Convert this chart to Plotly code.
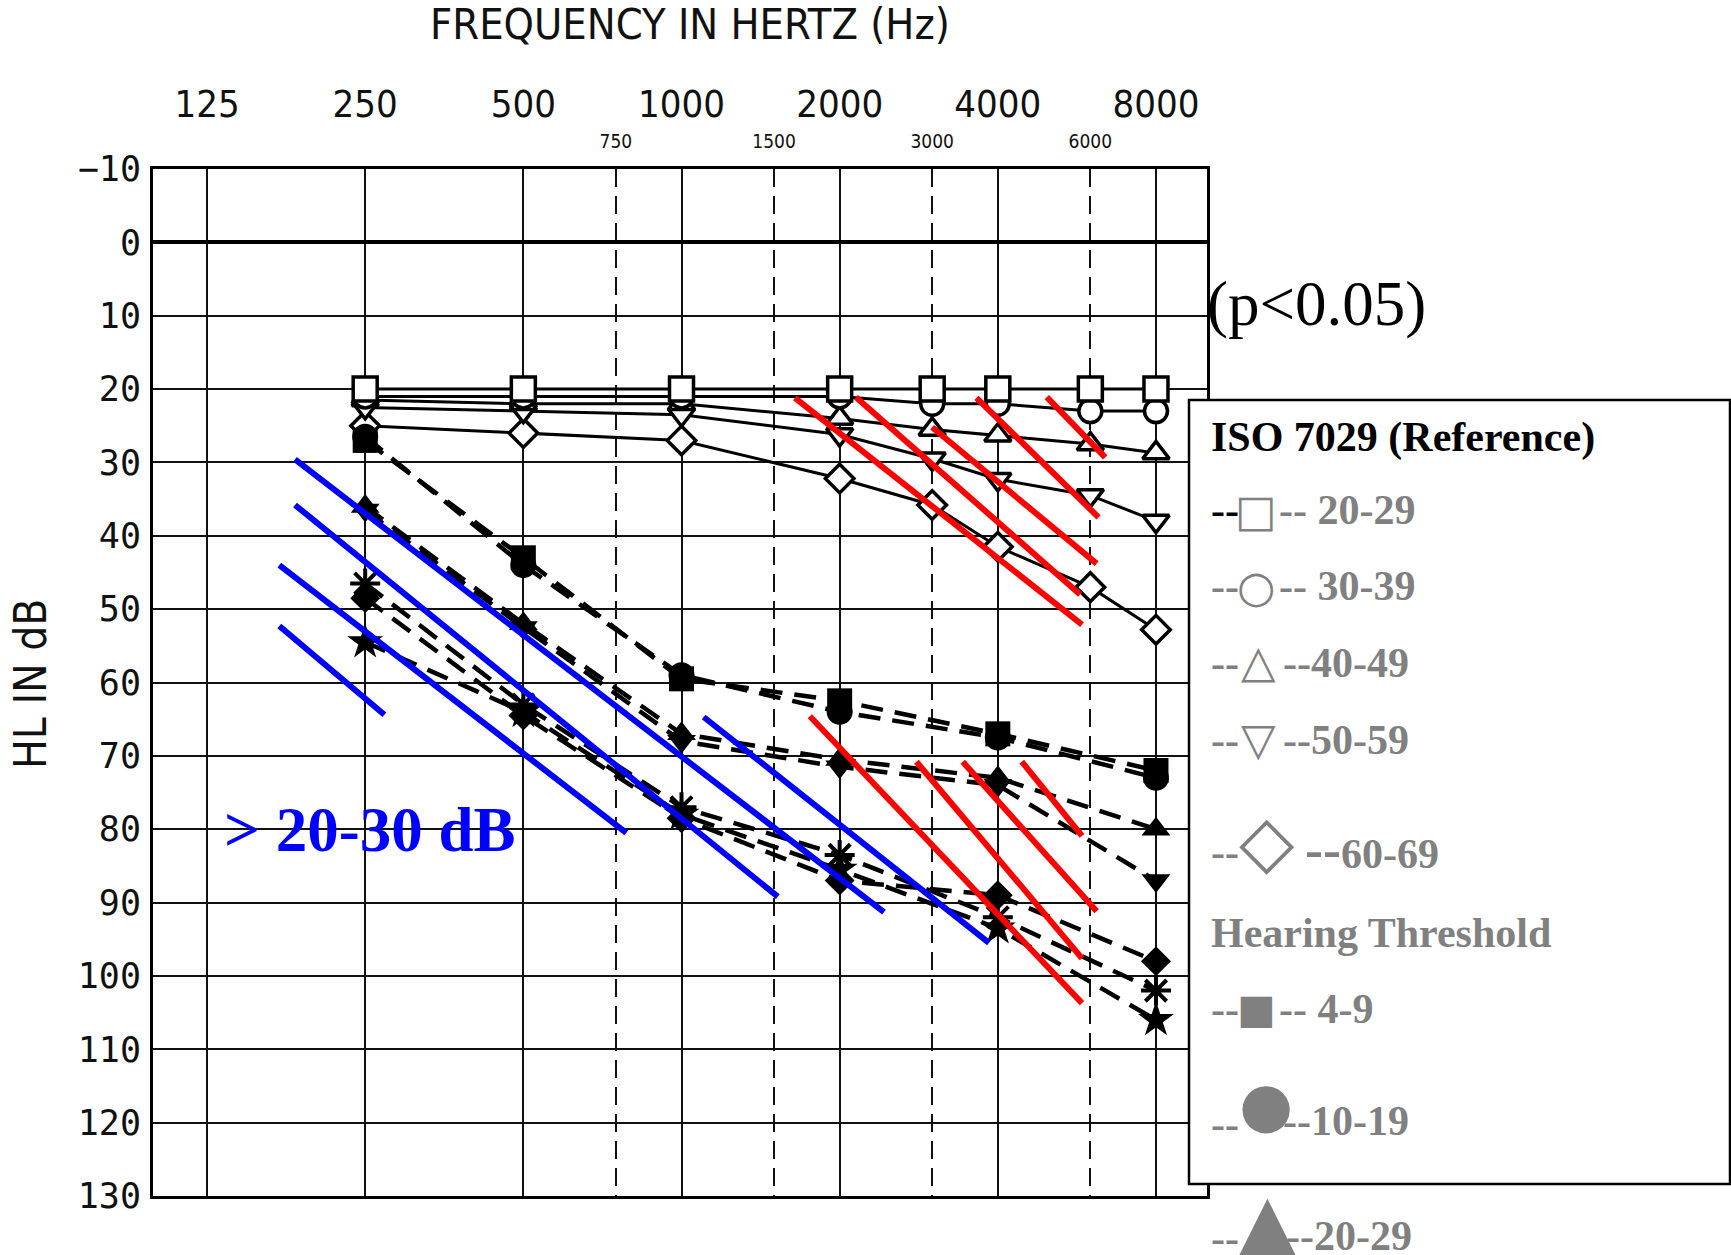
import plotly.graph_objects as go

# ---------------- data ----------------
# ISO 7029 reference thresholds (dB HL) by age group
FREQ_ISO = [250, 500, 1000, 2000, 3000, 4000, 6000, 8000]
ISO_20_29 = [20, 20, 20, 20, 20, 20, 20, 20]
ISO_30_39 = [21, 21, 21, 21, 22, 22, 23, 23]
ISO_40_49 = [21.5, 22, 22, 24, 25.5, 26.3, 27.5, 28.7]
ISO_50_59 = [22.5, 23, 23.5, 26.2, 29.5, 32.3, 34.5, 38]
ISO_60_69 = [25, 26, 27, 32.2, 35.8, 41.5, 47, 52.8]

# measured hearing thresholds (dB HL) by exposure group
FREQ_HT = [250, 500, 1000, 2000, 4000, 8000]
HT_4_9 = [27, 43, 59.5, 62.5, 67, 72]
HT_10_19 = [26.5, 44, 59, 64, 67.5, 73]
HT_20_29 = [36, 52, 67, 70.5, 73, 80]
HT_30_39 = [36.5, 52.5, 68, 71.5, 74, 87]
HT_40_49 = [48.5, 64.5, 78.5, 87, 89, 98]
HT_50_59 = [46.5, 63, 77, 83.5, 92, 102]
HT_60_69 = [54.5, 64, 78, 85.5, 93.5, 106]

# axis ticks
OCTAVE_TICKS = [125, 250, 500, 1000, 2000, 4000, 8000]
MID_TICKS = [750, 1500, 3000, 6000]
DB_TICKS = list(range(-10, 131, 10))
DB_LABELS = ["\u221210"] + [str(v) for v in DB_TICKS[1:]]

# highlight strokes: (freq start, dB start, freq end, dB end)
BLUE_STROKES = [
    (183.8, 29.6, 2429, 91.3),
    (183.8, 35.8, 1525, 89.2),
    (171.6, 44.0, 785, 80.5),
    (171.6, 52.3, 272, 64.4),
    (1102, 64.7, 3848, 95.5),
]
RED_STROKES = [
    (1644, 21.2, 5785, 52.1),
    (2148, 21.1, 5737, 48.0),
    (2999, 25.2, 6169, 43.8),
    (3643, 21.2, 6221, 37.5),
    (4958, 21.1, 6404, 29.3),
    (1755, 64.6, 5785, 103.7),
    (2800, 70.8, 5785, 97.6),
    (3430, 70.8, 6169, 91.2),
    (4443, 70.8, 5785, 80.9),
]

# ---------------- geometry helpers ----------------
W, H = 1731, 1255
PL, PR, PT, PB = 153, 1207, 169, 1196


def px_x(x):
    return (x - PL) / (PR - PL)


def px_y(y):
    return (PB - y) / (PB - PT)


AX_FONT = "DejaVu Sans Condensed, Liberation Sans Narrow, DejaVu Sans, sans-serif"
MONO = "DejaVu Sans Mono, Liberation Mono, monospace"
SERIF = "Liberation Serif, Times New Roman, serif"
GLYPH = "DejaVu Sans, sans-serif"
GRAY = "#808080"

fig = go.Figure()

# ISO 7029 reference curves: solid lines, open markers
iso_series = [
    ("ISO 20-29", ISO_20_29, "square", 24),
    ("ISO 30-39", ISO_30_39, "circle", 23),
    ("ISO 40-49", ISO_40_49, "triangle-up", 23),
    ("ISO 50-59", ISO_50_59, "triangle-down", 23),
    ("ISO 60-69", ISO_60_69, "diamond", 22),
]
for name, vals, sym, size in reversed(iso_series):
    fig.add_trace(go.Scatter(
        x=FREQ_ISO, y=vals, name=name, mode="lines+markers",
        line=dict(color="black", width=3),
        marker=dict(symbol=sym, size=size, color="white",
                    line=dict(color="black", width=3.5)),
    ))

# hearing threshold curves: dashed lines, filled markers
ht_series = [
    ("4-9", HT_4_9, "square", 25),
    ("10-19", HT_10_19, "circle", 26),
    ("20-29", HT_20_29, "triangle-up", 25),
    ("30-39", HT_30_39, "triangle-down", 25),
    ("40-49", HT_40_49, "diamond", 23),
    ("50-59", HT_50_59, "asterisk-open", 25),
    ("60-69", HT_60_69, "star", 27),
]
for name, vals, sym, size in ht_series:
    mk = dict(symbol=sym, size=size, color="black", line=dict(color="black", width=0))
    if sym == "asterisk-open":
        mk["line"] = dict(color="black", width=4)
    fig.add_trace(go.Scatter(
        x=FREQ_HT, y=vals, name=name, mode="lines+markers",
        line=dict(color="black", width=4.5, dash="22px,12px"),
        marker=mk,
    ))


def strokes_trace(strokes, color):
    xs, ys = [], []
    for f0, d0, f1, d1 in strokes:
        xs += [f0, f1, None]
        ys += [d0, d1, None]
    return go.Scatter(x=xs, y=ys, mode="lines", xaxis="x2", yaxis="y",
                      line=dict(color=color, width=6), hoverinfo="skip")


fig.add_trace(strokes_trace(BLUE_STROKES, "#0000FF"))
fig.add_trace(strokes_trace(RED_STROKES, "#FF0000"))

XRANGE = [1.9941, 4.0002]

fig.update_layout(
    width=W, height=H,
    margin=dict(l=PL, r=W - PR, t=PT, b=H - PB, pad=0),
    plot_bgcolor="white", paper_bgcolor="white",
    showlegend=False,
    xaxis=dict(
        type="log", range=XRANGE, side="top",
        tickmode="array", tickvals=OCTAVE_TICKS,
        ticktext=[str(v) for v in OCTAVE_TICKS],
        tickfont=dict(family=AX_FONT, size=38, color="#111"),
        ticks="outside", ticklen=34, tickcolor="rgba(0,0,0,0)",
        showgrid=True, gridcolor="#111", gridwidth=2,
        showline=True, linecolor="black", linewidth=3, mirror=True,
        zeroline=False,
    ),
    xaxis2=dict(
        type="log", range=XRANGE, side="top", overlaying="x", anchor="y",
        tickmode="array", tickvals=MID_TICKS,
        ticktext=[str(v) for v in MID_TICKS],
        tickfont=dict(family=AX_FONT, size=19, color="#111"),
        ticks="outside", ticklen=12, tickcolor="rgba(0,0,0,0)",
        showgrid=True, gridcolor="#111", gridwidth=2, griddash="18px,9px",
        showline=False, zeroline=False,
    ),
    yaxis=dict(
        range=[130, -10],
        tickmode="array", tickvals=DB_TICKS, ticktext=DB_LABELS,
        tickfont=dict(family=MONO, size=35, color="#111"),
        ticks="outside", ticklen=2, tickcolor="rgba(0,0,0,0)",
        showgrid=True, gridcolor="#111", gridwidth=2,
        zeroline=True, zerolinecolor="black", zerolinewidth=4,
        showline=True, linecolor="black", linewidth=3, mirror=True,
    ),
)

annotations = [
    dict(text="FREQUENCY IN HERTZ (Hz)", x=px_x(690), y=px_y(24),
         font=dict(family=AX_FONT, size=43, color="#111")),
    dict(text="HL IN dB", x=px_x(30), y=px_y(684), textangle=-90, xanchor="center",
         font=dict(family=AX_FONT, size=44, color="#111")),
    dict(text="<b>&gt; 20-30 dB</b>", x=px_x(222), y=px_y(830), xanchor="left",
         font=dict(family=SERIF, size=63, color="#0000FF")),
    dict(text="(p&lt;0.05)", x=px_x(1205), y=px_y(304), xanchor="left",
         font=dict(family=SERIF, size=63, color="black")),
    dict(text="<b>ISO 7029 (Reference)</b>", x=px_x(1209), y=px_y(437), xanchor="left",
         font=dict(family=SERIF, size=42, color="black")),
]


def legend_text(txt, x, y, color=GRAY, size=42):
    annotations.append(dict(
        text="<b>" + txt + "</b>", x=px_x(x), y=px_y(y), xanchor="left",
        font=dict(family=SERIF, size=size, color=color)))


def legend_glyph(ch, x, y, size):
    annotations.append(dict(
        text=ch, x=px_x(x), y=px_y(y), xanchor="center",
        font=dict(family=GLYPH, size=size, color=GRAY)))


# ISO 7029 rows
legend_text("--", 1209, 510, color="black")
legend_glyph("\u25a1", 1256, 510, 44)
legend_text("-- 20-29", 1277, 510)

legend_text("--", 1209, 586)
legend_glyph("\u25cb", 1256, 586, 44)
legend_text("-- 30-39", 1277, 586)

legend_text("--", 1209, 663)
legend_glyph("\u25b3", 1258, 661, 45)
legend_text("--40-49", 1281, 663)

legend_text("--", 1209, 740)
legend_glyph("\u25bd", 1258, 739, 45)
legend_text("--50-59", 1281, 740)

legend_text("--", 1209, 852)
legend_glyph("\u25c7", 1267, 841, 72)
legend_text('<span style="font-size:54px">--</span>60-69', 1303, 850)

# hearing threshold rows
legend_text("Hearing Threshold", 1209, 933)

legend_text("--", 1209, 1009)
legend_glyph("\u25a0", 1256, 1009, 41)
legend_text("-- 4-9", 1277, 1009)

legend_text("--", 1209, 1124)
legend_glyph("\u25cf", 1266, 1104, 62)
legend_text("--10-19", 1281, 1121)

legend_text("--", 1209, 1238)
legend_glyph("\u25b2", 1267, 1228, 100)
legend_text("--20-29", 1284, 1236)

for a in annotations:
    a.setdefault("xref", "paper")
    a.setdefault("yref", "paper")
    a.setdefault("showarrow", False)
    a.setdefault("yanchor", "middle")
fig.update_layout(annotations=annotations)

# legend frame, overlapping the right edge of the chart
fig.add_shape(type="rect", xref="paper", yref="paper",
              x0=px_x(1189), x1=px_x(1730), y0=px_y(1184), y1=px_y(400),
              fillcolor="white", line=dict(color="black", width=2.5), layer="above")

fig.write_html("out.html")
